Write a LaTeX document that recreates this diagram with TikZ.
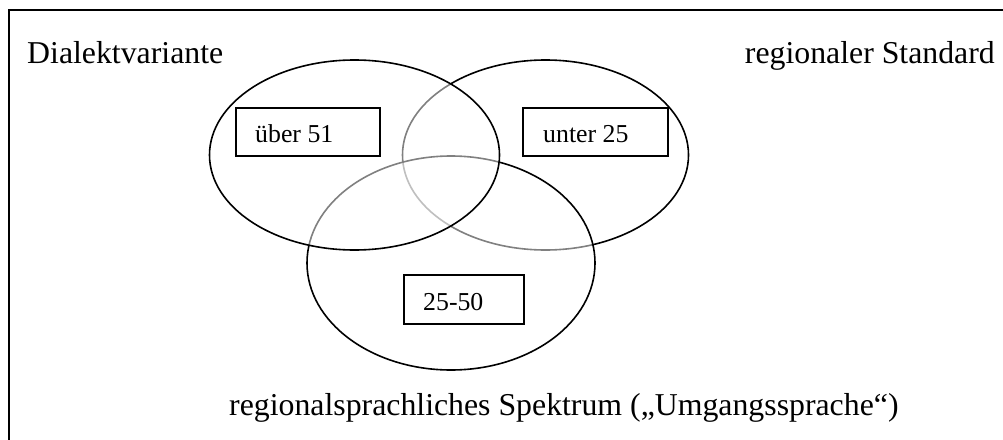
\documentclass[tikz,border=0pt]{standalone}
\usepackage{fontspec}
\setmainfont{Liberation Serif}
\usetikzlibrary{shapes.geometric}
\tikzset{
  set/.style={ellipse, draw=black, line width=1.6pt, fill=white, fill opacity=0.5,
    draw opacity=1, inner sep=0pt},
  agebox/.style={draw=black, line width=1.8pt, fill=white, inner sep=0pt,
    minimum height=48pt, anchor=north west},
  agetext/.style={inner sep=0pt, anchor=base west, font=\fontsize{25.8}{30}\selectfont},
  biglabel/.style={inner sep=0pt, font=\fontsize{31.8}{36}\selectfont},
}
\begin{document}
\begin{tikzpicture}[x=1pt,y=-1pt]
\useasboundingbox (0,0) rectangle (1003,439);
% outer frame, running off the right and bottom edges
\begin{scope}
  \clip (0,0) rectangle (1003,439);
  \draw[line width=2.2pt] (9,10) rectangle (1030,470);
\end{scope}
% three overlapping sets, the later ones veiling the earlier outlines
\node[set, minimum width=286pt, minimum height=190pt] (std) at (545.5,155) {};
\node[set, minimum width=288pt, minimum height=214pt] (umg) at (451,263) {};
\node[set, minimum width=290pt, minimum height=190pt] (dia) at (354.5,155) {};
% age groups
\node[agebox, minimum width=144pt] (b51) at (235,107) {};
\node[agetext] (t51) at (255,142) {über 51};
\node[agebox, minimum width=145pt] (u25) at (522,107) {};
\node[agetext] (t25) at (543,142) {unter 25};
\node[agebox, minimum width=120pt, minimum height=49pt] (m25) at (403,274) {};
\node[agetext] (t2550) at (423,310) {25-50};
% set captions
\node[biglabel, anchor=base west] (ldia) at (27,63) {Dialektvariante};
\node[biglabel, anchor=base east] (lstd) at (995,63) {regionaler Standard};
\node[biglabel, anchor=base west] (lumg) at (229,415) {regionalsprachliches Spektrum („Umgangssprache“)};
\end{tikzpicture}
\end{document}
